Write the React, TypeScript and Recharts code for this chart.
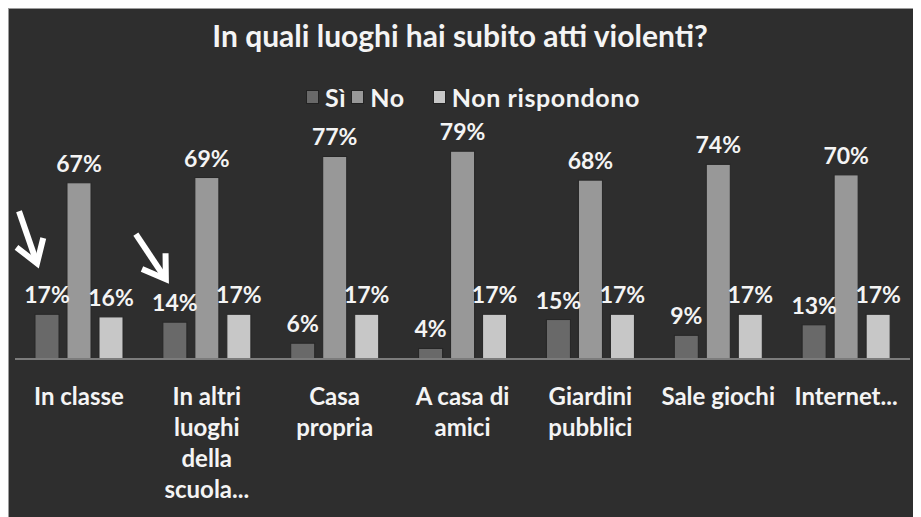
import React from "react";
import { Bar, BarChart, LabelList, XAxis, YAxis } from "recharts";

const categories = [
  "In classe",
  "In altri\nluoghi\ndella\nscuola...",
  "Casa\npropria",
  "A casa di\namici",
  "Giardini\npubblici",
  "Sale giochi",
  "Internet...",
];
const si = [17, 14, 6, 4, 15, 9, 13];
const no = [67, 69, 77, 79, 68, 74, 70];
const nonRispondono = [16, 17, 17, 17, 17, 17, 17];

const seriesNames = ["Sì", "No", "Non rispondono"];
const colours = ["#696969", "#989898", "#c7c7c7"];
const legendGaps = [5, 28, 0];

// white arrows pointing at the "Sì" bars of the first two places
const arrows: { [index: number]: { tip: [number, number]; tail: [number, number] } } = {
  0: { tip: [2, -51], tail: [-16, -103] },
  1: { tip: [3, -43], tail: [-27, -88] },
};

const data = categories.map((name, i) => ({
  name,
  si: si[i],
  no: no[i],
  nr: nonRispondono[i],
}));

const FONT = "Lato, 'Open Sans', sans-serif";
const TEXT = "#f4f4f4";

const CategoryTick = (props: any) => {
  const { x, y, payload } = props;
  const lines = String(payload.value).split("\n");
  return (
    <text x={x} y={y} textAnchor="middle" fill={TEXT} fontSize={24} fontWeight="bold" fontFamily={FONT}>
      {lines.map((line, i) => (
        <tspan key={i} x={x} dy={i == 0 ? 46 : 31}>
          {line}
        </tspan>
      ))}
    </text>
  );
};

const SiShape = (props: any) => {
  const { x, y, width, height, fill, index } = props;
  const arrow = arrows[index];
  let head = null;
  if (arrow) {
    const tx = x + arrow.tip[0];
    const ty = y + arrow.tip[1];
    const sx = x + arrow.tail[0];
    const sy = y + arrow.tail[1];
    const len = Math.hypot(tx - sx, ty - sy);
    const ux = (tx - sx) / len;
    const uy = (ty - sy) / len;
    const a = (33 * Math.PI) / 180;
    const L = 26;
    const w1 = [tx - L * (ux * Math.cos(a) - uy * Math.sin(a)), ty - L * (ux * Math.sin(a) + uy * Math.cos(a))];
    const w2 = [tx - L * (ux * Math.cos(-a) - uy * Math.sin(-a)), ty - L * (ux * Math.sin(-a) + uy * Math.cos(-a))];
    head = (
      <g stroke="#ffffff" strokeWidth={6} fill="none">
        <line x1={sx} y1={sy} x2={tx - ux * 3} y2={ty - uy * 3} />
        <polyline points={`${w1[0]},${w1[1]} ${tx},${ty} ${w2[0]},${w2[1]}`} strokeLinejoin="miter" />
      </g>
    );
  }
  return (
    <g>
      <rect x={x} y={y} width={width} height={height} fill={fill} stroke="#262626" strokeWidth={1} />
      {head}
    </g>
  );
};

const PlainShape = (props: any) => {
  const { x, y, width, height, fill } = props;
  return <rect x={x} y={y} width={width} height={height} fill={fill} stroke="#262626" strokeWidth={1} />;
};

export default function App() {
  return (
    <div
      style={{
        position: "relative",
        width: 913,
        height: 509,
        background: "#2e2e2e",
        borderTop: "1px solid #9c9c9c",
        borderLeft: "1px solid #9c9c9c",
        boxSizing: "border-box",
        fontFamily: FONT,
      }}
    >
      <div
        style={{
          position: "absolute",
          top: 8,
          left: 0,
          width: 902,
          textAlign: "center",
          color: TEXT,
          fontSize: 30,
          fontWeight: "bold",
        }}
      >
        In quali luoghi hai subito atti violenti?
      </div>
      <div
        style={{
          position: "absolute",
          top: 73,
          left: 0,
          width: 928,
          display: "flex",
          justifyContent: "center",
          color: TEXT,
          fontSize: 25,
          letterSpacing: 0.6,
          fontWeight: "bold",
        }}
      >
        {seriesNames.map((name, i) => (
          <span key={name} style={{ display: "flex", alignItems: "center", marginRight: legendGaps[i] }}>
            <span
              style={{
                display: "inline-block",
                width: 11,
                height: 12,
                background: colours[i],
                border: "1px solid #222",
                marginRight: 6,
              }}
            />
            {name}
          </span>
        ))}
      </div>
      <BarChart
        width={912}
        height={508}
        data={data}
        margin={{ top: 87, right: 11, left: 6, bottom: 8 }}
        barSize={24}
        barGap={8}
      >
        <XAxis
          dataKey="name"
          height={150}
          interval={0}
          tickLine={false}
          tickSize={0}
          tickMargin={0}
          axisLine={{ stroke: "#7c7c7c", strokeWidth: 2 }}
          tick={<CategoryTick />}
        />
        <YAxis hide domain={[0, 100]} />
        <Bar dataKey="si" name={seriesNames[0]} fill={colours[0]} shape={<SiShape />} isAnimationActive={false}>
          <LabelList dataKey="si" position="top" offset={11} fill={TEXT} fontSize={23} fontWeight="bold"
            fontFamily={FONT} formatter={(v: any) => `${v}%`} />
        </Bar>
        <Bar dataKey="no" name={seriesNames[1]} fill={colours[1]} shape={<PlainShape />} isAnimationActive={false}>
          <LabelList dataKey="no" position="top" offset={11} fill={TEXT} fontSize={23} fontWeight="bold"
            fontFamily={FONT} formatter={(v: any) => `${v}%`} />
        </Bar>
        <Bar dataKey="nr" name={seriesNames[2]} fill={colours[2]} shape={<PlainShape />} isAnimationActive={false}>
          <LabelList dataKey="nr" position="top" offset={11} fill={TEXT} fontSize={23} fontWeight="bold"
            fontFamily={FONT} formatter={(v: any) => `${v}%`} />
        </Bar>
      </BarChart>
    </div>
  );
}
